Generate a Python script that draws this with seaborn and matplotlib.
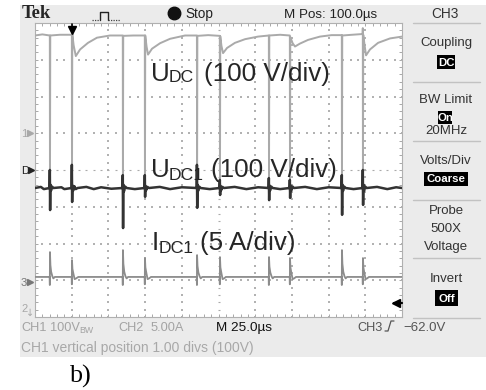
import matplotlib
matplotlib.use("Agg")
import matplotlib.pyplot as plt
import numpy as np
import pandas as pd
import seaborn as sns
from matplotlib.patches import Rectangle
from matplotlib.lines import Line2D

# ---------------- data ----------------
# time axis: 0..250 us (25 us/div), vertical: 8 divisions
# CH1  U_DC  (100 V/div, ground marker at +1 div)
udc_time = [0, 5, 10.1, 10.2, 10.4, 17, 25.1, 25.2, 25.4, 26.3, 27.8, 30.7, 36.1, 42.2, 51.1,
            59.8, 59.9, 60.1, 67, 74.8, 74.9, 75.1, 76.0, 77.0, 79.7, 85.2, 92.0, 102.2,
            110.3, 110.4, 110.6, 118, 125.9, 126.0, 126.2, 127.0, 128.1, 130.8, 136.2, 143.1, 151.9,
            159.3, 159.4, 159.6, 167, 173.6, 173.7, 173.9, 175.5, 177.1, 180.5, 186.0, 194.1, 202,
            209.0, 209.1, 209.3, 216, 223.2, 223.3, 223.4, 223.6, 224.5, 225.5, 228.2, 233.7, 241.8, 250]
udc_volt = [266, 269, 266, -144, 266, 268, 268, -144, 270, 240, 210, 228, 246, 260, 266,
            266, -144, 265, 266, 266, -144, 266, 236, 214, 230, 245, 257, 266,
            266, -144, 265, 267, 265, -144, 264, 238, 218, 232, 246, 256, 263,
            266, -144, 266, 268, 266, -144, 262, 245, 236, 244, 254, 263, 267,
            267, -144, 266, 268, 270, 286, -144, 268, 240, 212, 228, 246, 258, 263]

# U_DC1 (100 V/div, marker D at centre line)
udc1_time = [0, 4, 6, 9.9,
             10.1, 10.3, 10.5, 10.9, 11.6, 12.5, 18, 20, 24.9,
             25.1, 25.3, 25.5, 26.0, 26.8, 27.8, 29, 35, 40, 45, 52, 59.6,
             59.8, 60.0, 60.2, 60.6, 61.4, 62.4, 68, 74.6,
             74.8, 75.0, 75.2, 75.7, 76.6, 77.6, 85, 92, 100, 110.1,
             110.3, 110.5, 110.7, 111.1, 111.8, 112.8, 119, 125.7,
             125.9, 126.1, 126.3, 126.8, 127.7, 128.7, 136, 144, 152, 159.1,
             159.3, 159.5, 159.7, 160.1, 160.9, 161.9, 167, 173.4,
             173.6, 173.8, 174.0, 174.5, 175.4, 176.4, 184, 192, 200, 208.8,
             209.0, 209.2, 209.4, 209.8, 210.6, 211.6, 217, 223.1,
             223.3, 223.5, 223.7, 224.1, 224.9, 225.9, 233, 240, 246, 250]
udc1_volt = [-49, -46, -52, -49,
             0, -109, -40, -56, -45, -49, -47, -52, -49,
             14, -87, -42, -56, -44, -52, -49, -46, -52, -47, -51, -49,
             -14, -158, -40, -58, -45, -49, -52, -49,
             -14, -73, -43, -55, -46, -49, -46, -52, -47, -49,
             14, -103, -40, -57, -45, -49, -52, -49,
             -27, -68, -43, -55, -46, -49, -46, -52, -47, -49,
             -22, -82, -42, -56, -45, -49, -52, -49,
             -27, -76, -42, -56, -45, -49, -46, -52, -47, -49,
             -14, -122, -40, -57, -45, -49, -52, -49,
             0, -95, -40, -57, -45, -49, -46, -52, -47, -49]

# CH3  I_DC1 (5 A/div, marker at -3.05 div)
idc_time = [0, 10.0, 10.1, 10.2, 10.5, 11.0, 11.8, 12.5, 13.5,
            25.0, 25.1, 25.2, 25.5, 26.2, 27.0, 28.0, 29.5,
            59.7, 59.8, 59.9, 60.2, 60.8, 61.6, 62.4, 63.4,
            74.7, 74.8, 74.9, 75.2, 75.9, 76.7, 77.7, 79.0,
            110.2, 110.3, 110.4, 110.7, 111.3, 112.1, 112.9, 113.9,
            125.8, 125.9, 126.0, 126.3, 127.0, 127.8, 128.8, 130.0,
            159.2, 159.3, 159.4, 159.7, 160.3, 161.1, 161.9, 162.9,
            173.5, 173.6, 173.7, 174.0, 174.7, 175.5, 176.5, 177.8,
            208.9, 209.0, 209.1, 209.4, 210.0, 210.8, 211.6, 212.6,
            223.2, 223.3, 223.4, 223.7, 224.4, 225.2, 226.2, 227.5, 250]
idc_amp = [0.7, 0.7, -0.4, 4.08, 2.3, 1.4, 0.8, 0.5, 0.7,
           0.7, -0.3, 2.99, 1.8, 1.1, 0.4, 0.5, 0.7,
           0.7, -0.4, 4.35, 2.5, 1.4, 0.8, 0.5, 0.7,
           0.7, -0.3, 3.27, 2.0, 1.2, 0.4, 0.5, 0.7,
           0.7, -0.4, 3.67, 2.2, 1.3, 0.8, 0.5, 0.7,
           0.7, -0.3, 3.40, 2.0, 1.2, 0.4, 0.5, 0.7,
           0.7, -0.4, 3.40, 2.1, 1.3, 0.8, 0.5, 0.7,
           0.7, -0.3, 3.27, 2.0, 1.2, 0.4, 0.5, 0.7,
           0.7, -0.4, 4.35, 2.5, 1.4, 0.8, 0.5, 0.7,
           0.7, -0.3, 3.27, 2.0, 1.2, 0.4, 0.5, 0.7, 0.7]

# channel scaling (units per division) and screen offsets (divisions)
ch1_scale, ch1_offset = 100.0, 1.0
d_scale, d_offset = 100.0, 0.0
ch3_scale, ch3_offset = 5.0, -3.05

panel_labels = [("Coupling", 43), ("BW Limit", 100), ("20MHz", 131), ("Volts/Div", 161),
                ("Probe", 211), ("500X", 229), ("Voltage", 247), ("Invert", 279)]
panel_boxes = [("DC", 437, 455, 55, 69), ("On", 438, 452, 111, 124),
               ("Coarse", 424, 468, 172, 186), ("Off", 435, 458, 290, 306)]
panel_seps = [23, 82, 141, 200, 258, 318]

# ---------------- figure ----------------
sns.set_theme(style="white")
plt.rcParams['font.family'] = ['Liberation Sans', 'DejaVu Sans']

W, H = 486, 390
fig = plt.figure(figsize=(W / 100, H / 100), dpi=100)
fig.patch.set_facecolor('white')


def X(x):
    return x / W


def Y(y):
    return 1 - y / H


def ftext(x, y, s, **kw):
    kw.setdefault('va', 'baseline')
    kw.setdefault('ha', 'left')
    return fig.text(X(x), Y(y), s, **kw)


def fline(xs, ys, **kw):
    fig.add_artist(Line2D([X(v) for v in xs], [Y(v) for v in ys],
                          transform=fig.transFigure, **kw))


# scope screen background
fig.add_artist(Rectangle((X(20), Y(357)), (W - 20) / W, (357 - 5) / H,
                         transform=fig.transFigure, facecolor='#ebebeb',
                         edgecolor='none', zorder=-5))

ax = fig.add_axes([X(35), Y(317), 367 / W, 294 / H])
ax.set_xlim(0, 250)
ax.set_ylim(-4, 4)
ax.set_facecolor('white')
for s in ax.spines.values():
    s.set_visible(True)
    s.set_color('#b0b0b0')
    s.set_linewidth(0.8)
ax.set_xticks(np.arange(0, 251, 25))
ax.set_xticks(np.arange(0, 251, 5), minor=True)
ax.set_yticks(np.arange(-4, 4.01, 1))
ax.set_yticks(np.arange(-4, 4.01, 0.2), minor=True)
ax.tick_params(which='both', direction='in', top=True, right=True, bottom=True, left=True,
               length=2.2, width=0.7, color='#a8a8a8', labelbottom=False, labelleft=False)

# dotted graticule
gx, gy = [], []
for yy in range(-3, 4):
    if yy == 0:
        continue
    for xx in np.arange(0, 250.1, 5):
        gx.append(xx); gy.append(yy)
for xx in np.arange(25, 250, 25):
    if xx == 125:
        continue
    for yy in np.arange(-4, 4.01, 0.2):
        gx.append(xx); gy.append(yy)
ax.scatter(gx, gy, s=0.9, marker='s', color='#b2b2b2', linewidths=0, zorder=1)
ax.scatter(np.arange(0, 250.1, 5), np.zeros(51), s=4, marker='_', color='#aaaaaa',
           linewidths=0.8, zorder=1)
ax.scatter(np.full(41, 125.0), np.arange(-4, 4.01, 0.2), s=4, marker='_', color='#aaaaaa',
           linewidths=0.8, zorder=1)

# traces
df_udc = pd.DataFrame({'t': udc_time, 'y': ch1_offset + np.array(udc_volt) / ch1_scale})
df_udc1 = pd.DataFrame({'t': udc1_time, 'y': d_offset + np.array(udc1_volt) / d_scale})
df_idc = pd.DataFrame({'t': idc_time, 'y': ch3_offset + np.array(idc_amp) / ch3_scale})

sns.lineplot(data=df_udc, x='t', y='y', estimator=None, sort=False, color='#aaaaaa',
             linewidth=1.4, ax=ax, legend=False, zorder=3)
sns.lineplot(data=df_idc, x='t', y='y', estimator=None, sort=False, color='#8c8c8c',
             linewidth=1.3, ax=ax, legend=False, zorder=4)
sns.lineplot(data=df_udc1, x='t', y='y', estimator=None, sort=False, color='#333333',
             linewidth=1.8, ax=ax, legend=False, zorder=5)
ax.set_xlabel('')
ax.set_ylabel('')

# ---------------- annotation labels ----------------
big, small = 18.7, 12.6
ftext(150.5, 81, "U", fontsize=big)
ftext(168.5, 82.5, "DC", fontsize=small)
ftext(204, 81, "(100 V/div)", fontsize=big)

ftext(150.5, 177, "U", fontsize=big)
ftext(168.5, 180, "DC1", fontsize=small)
ftext(211, 177, "(100 V/div)", fontsize=big)

ftext(152, 250, "I", fontsize=big)
ftext(158.5, 253, "DC1", fontsize=small)
ftext(200, 250, "(5 A/div)", fontsize=big)

# ---------------- header ----------------
ftext(22, 18, "Tek", fontsize=13.3, fontweight='bold', family=['Liberation Serif'])
fline([92, 100], [20, 20], color='#444444', lw=0.9, linestyle=(0, (1, 1)))
fline([100, 100, 108, 108], [20, 12, 12, 20], color='#222222', lw=1.0)
fline([108, 120], [20, 20], color='#444444', lw=0.9, linestyle=(0, (1, 1)))
fline([173.5], [13], marker='o', markersize=9, color='#111111', linestyle='none')
ftext(185, 18, "Stop", fontsize=9.8, color='#222222')
ftext(284, 18, "M Pos: 100.0µs", fontsize=9.6, color='#222222')
ftext(445, 18, "CH3", fontsize=9.8, color='#333333', ha='center')

# trigger position marker
fline([72, 72], [24, 29], color='black', lw=1.2)
fline([72], [30], marker='v', markersize=6, color='black', linestyle='none')

# ---------------- right panel ----------------
for yy in panel_seps:
    fline([413, 480], [yy, yy], color='#c2c2c2', lw=1.0)
for txt, yy in panel_labels:
    ftext(446, yy, txt, fontsize=9.5, color='#333333', ha='center', va='center')
for txt, x0, x1, y0, y1 in panel_boxes:
    fig.add_artist(Rectangle((X(x0), Y(y1)), (x1 - x0) / W, (y1 - y0) / H,
                             transform=fig.transFigure, facecolor='black',
                             edgecolor='none', zorder=1))
    ftext((x0 + x1) / 2, (y0 + y1) / 2 + 0.5, txt, fontsize=8.2, color='white',
          ha='center', va='center', fontweight='bold')

# ---------------- left channel markers ----------------
ftext(21, 137, "1", fontsize=8, color='#a8a8a8')
fline([30], [133], marker='>', markersize=4, color='#a8a8a8', linestyle='none')
ftext(21, 174, "D", fontsize=8, color='#222222')
fline([31], [170], marker='>', markersize=4, color='#222222', linestyle='none')
ftext(21, 286, "3", fontsize=8, color='#777777')
fline([30], [282], marker='>', markersize=4, color='#777777', linestyle='none')
ftext(21, 312, "2", fontsize=8, color='#a8a8a8')
ftext(26, 316, "↓", fontsize=7, color='#a8a8a8', family=['DejaVu Sans'])

# trigger level arrow
fline([394, 402], [303, 303], color='black', lw=1.6)
fline([396], [303], marker='<', markersize=6, color='black', linestyle='none')

# ---------------- bottom status ----------------
grey1 = '#a3a3a3'
st = 9.2
ftext(21, 331, "CH1", fontsize=st, color=grey1)
ftext(50, 331, "100V", fontsize=st, color=grey1)
ftext(79, 333, "BW", fontsize=6.3, color=grey1)
ftext(118, 331, "CH2", fontsize=st, color=grey1)
ftext(151, 331, "5.00A", fontsize=st, color=grey1)
ftext(216, 331, "M 25.0µs", fontsize=st + 0.5, color='#111111')
ftext(357, 331, "CH3", fontsize=st, color='#555555')
fline([385, 388, 391, 394], [331, 331, 321, 321], color='#555555', lw=0.9)
ftext(403, 331, "−62.0V", fontsize=st + 0.3, color='#555555')
ftext(21, 352, "CH1 vertical position 1.00 divs (100V)", fontsize=10, color='#a8a8a8')

# caption
ftext(70, 383, "b)", fontsize=18.7, family=['Liberation Serif'], color='black')

fig.savefig('out.png', dpi=100)
